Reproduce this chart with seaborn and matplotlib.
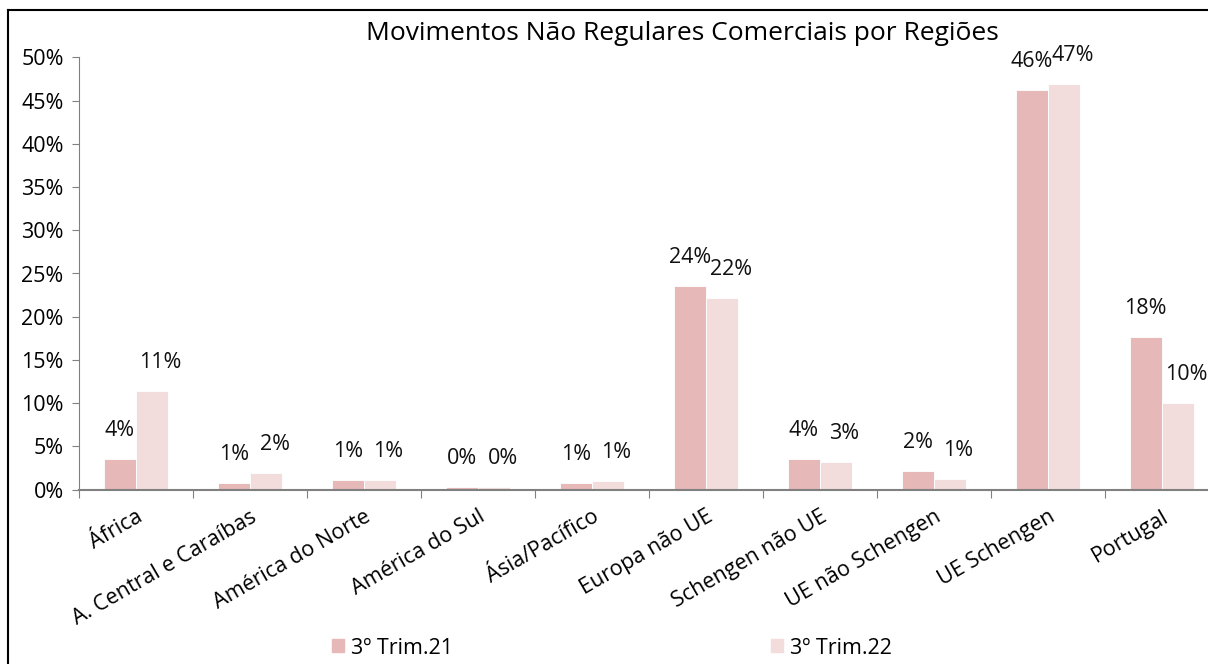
import matplotlib
matplotlib.use("Agg")

import matplotlib.pyplot as plt
import seaborn as sns
import pandas as pd
from matplotlib.lines import Line2D
from matplotlib.ticker import FuncFormatter

regioes = ["África", "A. Central e Caraíbas", "América do Norte", "América do Sul",
           "Ásia/Pacífico", "Europa não UE", "Schengen não UE", "UE não Schengen",
           "UE Schengen", "Portugal"]
periodos = ["3º Trim.21", "3º Trim.22"]
trim21 = [3.6, 0.74, 1.1, 0.35, 0.8, 23.6, 3.55, 2.2, 46.2, 17.6]
trim22 = [11.4, 1.97, 1.1, 0.35, 1.05, 22.2, 3.17, 1.2, 46.9, 10.05]
cores = ["#e6b8b8", "#f2dcdc"]
yticks = [0, 5, 10, 15, 20, 25, 30, 35, 40, 45, 50]

df = pd.DataFrame({
    "regiao": regioes * 2,
    "periodo": [periodos[0]] * len(regioes) + [periodos[1]] * len(regioes),
    "valor": trim21 + trim22,
})

plt.rcParams["font.family"] = ["Open Sans", "DejaVu Sans"]
FS = 15.5

fig = plt.figure(figsize=(12.08, 6.64), dpi=100)
ax = fig.add_axes([79 / 1208, 1 - 489.7 / 664, 1140 / 1208, (489.7 - 57.3) / 664])

sns.barplot(data=df, x="regiao", y="valor", hue="periodo", palette=cores,
            width=0.57, gap=0, saturation=1, ax=ax, legend=False,
            edgecolor="white", linewidth=0.6)

# rótulos de dados (a 2ª série ligeiramente deslocada para a direita, como no original)
for cont, vals, dx in zip(ax.containers, [trim21, trim22], [0, 6]):
    for bar, v in zip(cont, vals):
        ax.annotate(f"{round(v)}%", xy=(bar.get_x() + bar.get_width() / 2, bar.get_height()),
                    xytext=(dx, 13), textcoords="offset points", ha="center", va="bottom",
                    fontsize=FS, color="#111111", annotation_clip=False)

ax.set_ylim(0, 50)
ax.set_xlim(-0.5, len(regioes) - 0.5)
ax.set_yticks(yticks)
ax.yaxis.set_major_formatter(FuncFormatter(lambda v, _: f"{v:.0f}%"))
ax.set_xticks([i - 0.5 for i in range(len(regioes) + 1)], minor=False)
ax.set_xticklabels([])
ax.set_xticks(range(len(regioes)), minor=True)
ax.set_xticklabels(regioes, minor=True, rotation=30, ha="right",
                   rotation_mode="anchor", fontsize=FS)
ax.tick_params(axis="x", which="minor", length=0, pad=12)
ax.tick_params(axis="x", which="major", length=6, color="#808080", direction="out")
ax.tick_params(axis="y", length=5, color="#808080", labelsize=FS, pad=6)
ax.set_xlabel("")
ax.set_ylabel("")
for s in ["top", "right"]:
    ax.spines[s].set_visible(False)
ax.spines["left"].set_color("#808080")
ax.spines["bottom"].set_color("#808080")
ax.spines["bottom"].set_linewidth(1.5)

fig.text(682 / 1208, 1 - 34 / 664, "Movimentos Não Regulares Comerciais por Regiões",
         ha="center", va="center", fontsize=19)

handles = [plt.Rectangle((0, 0), 1, 1, color=c) for c in cores]
fig.legend(handles, periodos, loc="center", bbox_to_anchor=(612 / 1208, 1 - 648 / 664),
           ncol=2, frameon=False, fontsize=FS, handlelength=0.55, handleheight=0.55,
           handletextpad=0.3, columnspacing=14.8)

# moldura
fig.add_artist(Line2D([8 / 1208, 1], [1 - 10 / 664, 1 - 10 / 664], color="black", lw=1.5))
fig.add_artist(Line2D([8 / 1208, 8 / 1208], [0, 1 - 10 / 664], color="black", lw=1.5))

fig.savefig("out.png", dpi=100)
